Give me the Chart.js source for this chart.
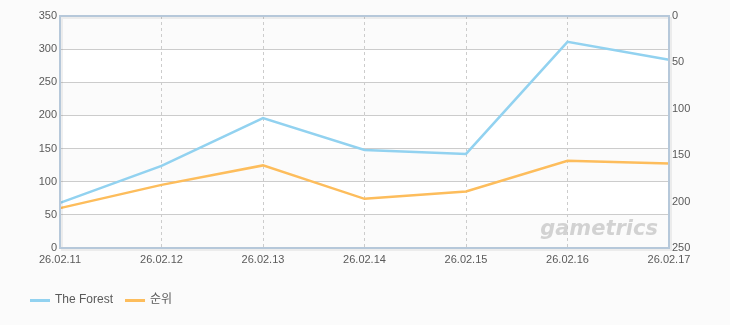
<!DOCTYPE html>
<html>
<head>
<meta charset="utf-8">
<script src="https://cdn.jsdelivr.net/npm/chart.js@4"></script>
<style>
  html, body { margin: 0; padding: 0; background: #fbfbfb; }
  #wrap { width: 730px; height: 325px; }
</style>
</head>
<body>
<div id="wrap"><canvas id="chart" width="730" height="325"></canvas></div>
<script>
// chart data
const dates = ['26.02.11', '26.02.12', '26.02.13', '26.02.14', '26.02.15', '26.02.16', '26.02.17'];
const forestValues = [68, 124, 196, 148, 142, 311, 284];
const rankValues = [207, 182, 161, 197, 189, 156, 159];
const leftTicks = [0, 50, 100, 150, 200, 250, 300, 350];
const rightTicks = [0, 50, 100, 150, 200, 250];

const FONT = "'Liberation Sans', Arial, 'Noto Sans CJK KR', sans-serif";
const TEXT = '#5a5a5a';
const FRAME = '#b6c8da';

// bands, frame, watermark and legend drawn around the plot
const decor = {
  id: 'decor',
  beforeDraw(chart) {
    const { ctx, chartArea: a, scales } = chart;
    ctx.save();
    ctx.fillStyle = '#fbfbfb';
    ctx.fillRect(0, 0, chart.width, chart.height);
    ctx.fillStyle = '#ffffff';
    ctx.fillRect(a.left, a.top, a.right - a.left, a.bottom - a.top);
    ctx.fillStyle = '#fbfbfb';
    for (let i = 0; i < leftTicks.length - 1; i += 2) {
      const y1 = scales.y.getPixelForValue(leftTicks[i]);
      const y2 = scales.y.getPixelForValue(leftTicks[i + 1]);
      ctx.fillRect(a.left, y2, a.right - a.left, y1 - y2);
    }
    ctx.restore();
  },
  beforeDatasetsDraw(chart) {
    const { ctx, chartArea: a } = chart;
    ctx.save();
    ctx.font = "italic bold 21px 'DejaVu Sans', sans-serif";
    ctx.fillStyle = 'rgba(200,200,200,0.8)';
    ctx.textAlign = 'right';
    ctx.textBaseline = 'alphabetic';
    ctx.fillText('gametrics', a.right - 11, a.bottom - 13);
    ctx.restore();
  },
  afterDatasetsDraw(chart) {
    const { ctx, chartArea: a } = chart;
    ctx.save();
    // soft shadow
    ctx.strokeStyle = 'rgba(0,0,0,0.06)';
    ctx.lineWidth = 2;
    ctx.strokeRect(a.left + 2, a.top + 2, a.right - a.left, a.bottom - a.top);
    ctx.strokeStyle = FRAME;
    ctx.lineWidth = 2;
    ctx.strokeRect(a.left, a.top, a.right - a.left, a.bottom - a.top);
    ctx.restore();
  },
  afterDraw(chart) {
    const { ctx } = chart;
    ctx.save();
    ctx.font = '12px ' + FONT;
    ctx.textBaseline = 'middle';
    let x = 30;
    const y = 300;
    chart.data.datasets.forEach(ds => {
      ctx.fillStyle = ds.borderColor;
      ctx.fillRect(x, y - 1, 20, 3);
      ctx.fillStyle = TEXT;
      ctx.fillText(ds.label, x + 25, y);
      x += 25 + ctx.measureText(ds.label).width + 12;
    });
    ctx.restore();
  }
};

new Chart(document.getElementById('chart'), {
  type: 'line',
  data: {
    labels: dates,
    datasets: [
      {
        label: 'The Forest',
        data: forestValues,
        yAxisID: 'y',
        borderColor: '#92d2f0',
        borderWidth: 2.5,
        pointRadius: 0,
        tension: 0
      },
      {
        label: '순위',
        data: rankValues,
        yAxisID: 'y2',
        borderColor: '#fdbd5c',
        borderWidth: 2.5,
        pointRadius: 0,
        tension: 0
      }
    ]
  },
  options: {
    responsive: false,
    animation: false,
    layout: { padding: { top: 16, left: 0, right: 0, bottom: 0 } },
    plugins: {
      legend: { display: false },
      tooltip: { enabled: false }
    },
    scales: {
      x: {
        offset: false,
        grid: { color: '#cccccc', drawTicks: false },
        border: { display: false, dash: [3, 3] },
        ticks: {
          color: TEXT, font: { family: FONT, size: 11 }, padding: 5,
          maxRotation: 0, autoSkip: false
        },
        afterFit(s) { s.height = 77; }
      },
      y: {
        position: 'left',
        min: 0, max: 350,
        afterBuildTicks(s) { s.ticks = leftTicks.map(v => ({ value: v })); },
        grid: { color: '#cccccc', drawTicks: false },
        border: { display: false },
        ticks: { color: TEXT, font: { family: FONT, size: 11 }, padding: 3 },
        afterFit(s) { s.width = 60; }
      },
      y2: {
        position: 'right',
        reverse: true,
        min: 0, max: 250,
        afterBuildTicks(s) { s.ticks = rightTicks.map(v => ({ value: v })); },
        grid: { display: false, drawTicks: false },
        border: { display: false },
        ticks: { color: TEXT, font: { family: FONT, size: 11 }, padding: 3 },
        afterFit(s) { s.width = 61; }
      }
    }
  },
  plugins: [decor]
});
</script>
</body>
</html>
